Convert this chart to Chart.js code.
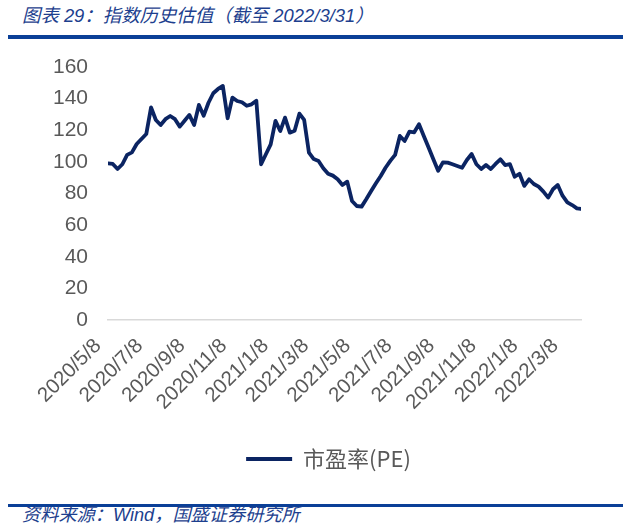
<!DOCTYPE html>
<html><head><meta charset="utf-8">
<script src="https://cdn.jsdelivr.net/npm/chart.js@4/dist/chart.umd.min.js"></script>
<style>
html,body{margin:0;padding:0;background:#fff}
body{width:629px;height:530px;position:relative;overflow:hidden;font-family:"Liberation Sans",Arial,sans-serif}
#title{position:absolute;left:22px;top:4px;font-size:18.4px;font-style:italic;color:#1d3f8e;font-family:"Liberation Sans","Noto Sans CJK SC",sans-serif;white-space:nowrap;line-height:24px}
#bar1{position:absolute;left:8px;top:35px;width:615px;height:4px;background:#0a3f97}
#wrap{position:absolute;left:0;top:40px;width:629px;height:440px}
#bar2{position:absolute;left:8px;top:504px;width:615px;height:3px;background:#0a3f97}
#src{position:absolute;left:22px;top:503px;font-size:18.2px;font-style:italic;color:#1d3f8e;font-family:"Liberation Sans","Noto Sans CJK SC",sans-serif;white-space:nowrap;line-height:24px}
</style></head>
<body>
<div id="title">图表 29：指数历史估值（截至 2022/3/31）</div>
<div id="bar1"></div>
<div id="wrap"><canvas id="c" width="629" height="440"></canvas></div>
<div id="bar2"></div>
<div id="src">资料来源：Wind，国盛证券研究所</div>
<script>
const seriesName = '市盈率(PE)';
const startDate = '2020/5/8';
const endDate = '2022/3/31';
// weekly PE values
const peValues = [
  99.1, 98.7, 95.5, 98.5, 104.4, 106.0, 111.3, 114.5, 117.6, 134.5,
  126.5, 123.3, 127.0, 129.0, 127.0, 122.3, 126.0, 129.7, 123.3, 136.0,
  129.2, 137.4, 143.4, 146.1, 148.0, 127.6, 140.6, 138.5, 137.7, 135.5,
  136.4, 138.7, 98.5, 104.8, 111.1, 125.9, 119.5, 128.0, 118.5, 119.7,
  130.5, 126.5, 105.8, 101.8, 100.6, 96.0, 92.5, 91.3, 89.0, 85.4,
  87.5, 75.3, 72.1, 71.7, 76.5, 81.6, 86.5, 91.1, 96.3, 100.6,
  104.4, 116.4, 113.2, 119.1, 118.7, 123.8, 116.4, 109.1, 101.7, 94.4,
  99.7, 99.5, 98.5, 97.4, 96.3, 101.2, 105.0, 98.5, 95.5, 98.0,
  95.5, 98.7, 101.6, 98.0, 98.5, 90.6, 92.5, 84.8, 89.0, 86.0,
  84.3, 81.2, 77.4, 82.7, 85.4, 78.6, 74.4, 72.7, 70.6, 70.2
];
const tickLabels = ['2020/5/8','2020/7/8','2020/9/8','2020/11/8','2021/1/8','2021/3/8',
  '2021/5/8','2021/7/8','2021/9/8','2021/11/8','2022/1/8','2022/3/8'];
const yTicks = [0,20,40,60,80,100,120,140,160];

function dayNum(s){const p=s.split('/').map(Number);return Date.UTC(p[0],p[1]-1,p[2])/86400000;}
const d0 = dayNum(startDate), dEnd = dayNum(endDate);
// weekly observation dates (last one is the cut-off date)
const obsDays = peValues.map((v,i)=> i===peValues.length-1 ? dEnd-d0 : i*7);
const points = peValues.map((v,i)=>({x:obsDays[i], y:v}));
const tickDays = tickLabels.map(s=>dayNum(s)-d0);

const navy = '#0b2462';
const grey = '#595959';
// move the bottom legend a little to the right, as in the source figure
const legendShift = {
  id:'legendShift',
  afterLayout(chart){ const l=chart.legend; if(l){ l.left+=38; l.right+=38; } }
};
new Chart(document.getElementById('c'), {
  type:'line',
  data:{datasets:[{label:seriesName,data:points,borderColor:navy,backgroundColor:navy,
    borderWidth:3.8,pointRadius:0,tension:0,borderJoinStyle:'round',borderCapStyle:'round'}]},
  plugins:[legendShift],
  options:{
    responsive:false,animation:false,
    layout:{padding:{top:27,left:0,right:48,bottom:0}},
    plugins:{
      tooltip:{enabled:false},
      legend:{position:'bottom',labels:{usePointStyle:true,pointStyle:'line',pointStyleWidth:46,
        boxHeight:22,color:grey,font:{size:22,family:'"Noto Sans CJK SC","Liberation Sans",sans-serif'},padding:9}}
    },
    scales:{
      x:{type:'linear',min:0,max:dEnd-d0,
        grid:{display:false,drawTicks:false},
        border:{display:true,color:'#d9d9d9',width:1.5},
        afterBuildTicks:(s)=>{s.ticks=tickDays.map(v=>({value:v}));},
        afterFit:(s)=>{s.height=119;},
        ticks:{autoSkip:false,maxRotation:45,minRotation:45,padding:14,labelOffset:-10,color:grey,
          font:{size:20.5,family:'"Liberation Sans",Arial,sans-serif'},
          callback:(v)=>{const i=tickDays.indexOf(v);return i>=0?tickLabels[i]:'';}}
      },
      y:{min:0,max:160,
        grid:{display:false,drawTicks:false},
        border:{display:false},
        afterBuildTicks:(s)=>{s.ticks=yTicks.map(v=>({value:v}));},
        afterFit:(s)=>{s.width=108;s.paddingTop=0;s.paddingBottom=0;},
        ticks:{padding:20,color:grey,font:{size:21,family:'"Liberation Sans",Arial,sans-serif'}}
      }
    }
  }
});
</script>
</body></html>
